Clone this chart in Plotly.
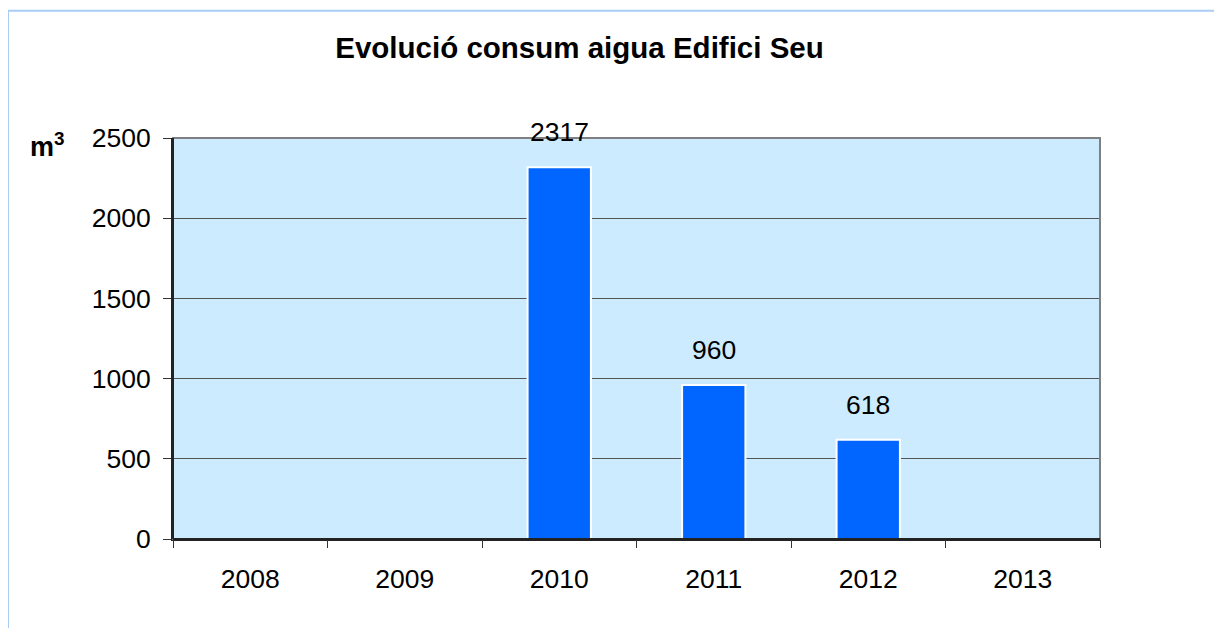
import plotly.graph_objects as go

years = ["2008", "2009", "2010", "2011", "2012", "2013"]
consum = [None, None, 2317, 960, 618, None]
title_text = "Evolució consum aigua Edifici Seu"
y_unit = "m<sup>3</sup>"
y_ticks = [0, 500, 1000, 1500, 2000, 2500]

W, H = 1222, 628
OFF = 8  # page body margin in the browser
L, R, T, B = 173 - OFF, 1100 - OFF, 138.3 - OFF, 539.5 - OFF
pw, ph = R - L, B - T

def px(x):
    return (x - OFF - L) / pw

def py(y):
    return (B - (y - OFF)) / ph

FONT = "Liberation Sans, Arial, sans-serif"
TICK = 26.5

fig = go.Figure()
fig.add_trace(go.Bar(
    x=list(range(len(years))), y=consum, width=0.41,
    marker=dict(color="#0066FF", line=dict(color="white", width=2)),
    hoverinfo="y",
))

annotations = []
for i, v in enumerate(consum):
    if v is not None:
        annotations.append(dict(x=i, y=v, xref="x", yref="y", text=str(v),
                                showarrow=False, yshift=35, yanchor="middle",
                                xanchor="center",
                                font=dict(family=FONT, size=TICK, color="black")))
annotations.append(dict(x=px(47), y=py(145), xref="paper", yref="paper",
                        text="<b>" + y_unit + "</b>", showarrow=False,
                        xanchor="center", yanchor="middle",
                        font=dict(family=FONT, size=27, color="black")))

shapes = [
    dict(type="rect", xref="paper", yref="paper", x0=px(8), x1=px(1219),
         y0=py(680), y1=py(11), line=dict(color="#A9CDF5", width=2),
         fillcolor="rgba(0,0,0,0)", layer="below"),
    dict(type="rect", xref="paper", yref="paper", x0=0, x1=1, y0=0, y1=1,
         line=dict(color="#808080", width=2), fillcolor="rgba(0,0,0,0)",
         layer="above"),
    dict(type="line", xref="paper", yref="paper", x0=0, x1=0, y0=0, y1=1,
         line=dict(color="#222222", width=2), layer="above"),
    dict(type="line", xref="paper", yref="paper", x0=0, x1=1, y0=0, y1=0,
         line=dict(color="#222222", width=2), layer="above"),
]

fig.update_layout(
    width=W, height=H,
    margin=dict(l=L, r=W - R, t=T, b=H - B, pad=0),
    paper_bgcolor="white", plot_bgcolor="#CCEBFF",
    font=dict(family=FONT, size=TICK, color="black"),
    title=dict(text="<b>" + title_text + "</b>", x=(579.5 - OFF) / W,
               xref="container", xanchor="center", y=1 - (48 - OFF) / H,
               yref="container", yanchor="middle",
               font=dict(family=FONT, size=29.5, color="black")),
    showlegend=False,
    annotations=annotations,
    shapes=shapes,
    xaxis=dict(tickmode="array", tickvals=list(range(len(years))), ticktext=years,
               showgrid=False, showline=True, linecolor="#222222", linewidth=2,
               ticks="", ticklabelstandoff=15,
               tickfont=dict(family=FONT, size=TICK, color="black"),
               range=[-0.5, len(years) - 0.5], fixedrange=True, zeroline=False),
    xaxis2=dict(overlaying="x", matches="x", tickmode="array",
                tickvals=[i - 0.5 for i in range(len(years) + 1)],
                ticks="outside", ticklen=8, tickwidth=1, tickcolor="#333333",
                showticklabels=False, showgrid=False, zeroline=False,
                showline=False, fixedrange=True),
    yaxis=dict(range=[0, 2500], tickvals=y_ticks, showgrid=True,
               gridcolor="#555555", gridwidth=1, zeroline=False,
               showline=True, linecolor="#222222", linewidth=2,
               ticks="outside", ticklen=8, tickwidth=1, tickcolor="#333333",
               ticklabelstandoff=7,
               tickfont=dict(family=FONT, size=TICK, color="black"),
               fixedrange=True),
)
fig.add_trace(go.Scatter(x=[0], y=[None], xaxis="x2", yaxis="y",
                         showlegend=False, hoverinfo="skip"))

fig.write_html("out.html")
